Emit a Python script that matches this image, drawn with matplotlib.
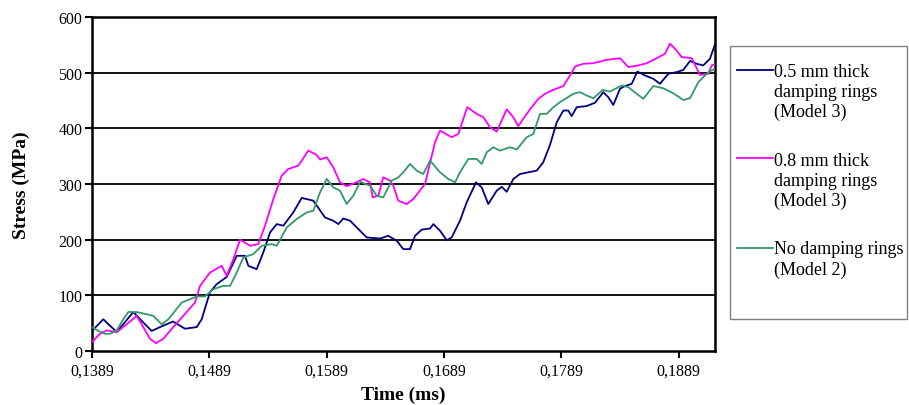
import matplotlib
matplotlib.use('Agg')
import matplotlib.pyplot as plt
from matplotlib.patches import Rectangle
from matplotlib.ticker import FuncFormatter
from matplotlib.legend_handler import HandlerLine2D

# 0.5 mm thick damping rings (Model 3)
t_05 = [0.13890, 0.13986, 0.14101, 0.14242, 0.14342, 0.14399, 0.14470, 0.14581, 0.14683, 0.14783,
        0.14825, 0.14896, 0.14953, 0.15038, 0.15124, 0.15194, 0.15223, 0.15294, 0.15350, 0.15408,
        0.15465, 0.15521, 0.15606, 0.15678, 0.15777, 0.15876, 0.15947, 0.15990, 0.16032, 0.16090,
        0.16232, 0.16345, 0.16416, 0.16488, 0.16544, 0.16601, 0.16644, 0.16701, 0.16772, 0.16800,
        0.16857, 0.16914, 0.16956, 0.17027, 0.17084, 0.17164, 0.17212, 0.17268, 0.17340, 0.17383,
        0.17425, 0.17482, 0.17539, 0.17609, 0.17681, 0.17737, 0.17794, 0.17852, 0.17908, 0.17950,
        0.17979, 0.18022, 0.18107, 0.18178, 0.18249, 0.18291, 0.18334, 0.18391, 0.18434, 0.18491,
        0.18539, 0.18604, 0.18675, 0.18732, 0.18803, 0.18875, 0.18931, 0.18988, 0.19045, 0.19101,
        0.19158, 0.19201]
s_05 = [36, 57, 34, 70, 48, 36, 43, 53, 40, 43,
        57, 106, 120, 133, 171, 171, 153, 147, 177, 213,
        228, 225, 249, 275, 270, 240, 234, 228, 238, 234,
        204, 202, 207, 198, 183, 183, 207, 218, 220, 228,
        216, 199, 204, 234, 267, 303, 294, 264, 288, 295,
        286, 309, 318, 321, 324, 339, 370, 411, 432, 432,
        422, 438, 440, 446, 465, 456, 442, 471, 476, 480,
        502, 495, 489, 480, 498, 501, 505, 521, 516, 513,
        525, 551]

# 0.8 mm thick damping rings (Model 3)
t_08 = [0.13890, 0.13958, 0.14015, 0.14101, 0.14186, 0.14271, 0.14327, 0.14384, 0.14436, 0.14498,
        0.14583, 0.14697, 0.14768, 0.14811, 0.14896, 0.14996, 0.15038, 0.15095, 0.15152, 0.15237,
        0.15308, 0.15365, 0.15436, 0.15507, 0.15563, 0.15649, 0.15678, 0.15734, 0.15806, 0.15834,
        0.15891, 0.15947, 0.16004, 0.16061, 0.16132, 0.16203, 0.16260, 0.16283, 0.16331, 0.16373,
        0.16431, 0.16459, 0.16501, 0.16573, 0.16629, 0.16729, 0.16814, 0.16857, 0.16956, 0.17013,
        0.17089, 0.17170, 0.17226, 0.17283, 0.17340, 0.17425, 0.17482, 0.17524, 0.17596, 0.17638,
        0.17695, 0.17752, 0.17809, 0.17908, 0.17965, 0.18008, 0.18078, 0.18164, 0.18278, 0.18391,
        0.18462, 0.18547, 0.18619, 0.18704, 0.18775, 0.18817, 0.18860, 0.18917, 0.19002, 0.19073,
        0.19144, 0.19173, 0.19201]
s_08 = [16, 31, 37, 34, 48, 63, 43, 22, 14, 22,
        43, 70, 87, 117, 141, 153, 135, 165, 200, 189,
        192, 225, 273, 315, 327, 333, 342, 360, 352, 344,
        348, 330, 303, 296, 302, 309, 303, 276, 279, 312,
        306, 297, 270, 264, 273, 300, 375, 396, 384, 390,
        438, 426, 420, 402, 394, 434, 420, 404, 426, 438,
        453, 462, 468, 476, 495, 511, 516, 517, 523, 526,
        510, 513, 517, 526, 534, 552, 543, 528, 526, 496,
        498, 513, 516]

# No damping rings (Model 2)
t_no = [0.13890, 0.13944, 0.14001, 0.14044, 0.14101, 0.14157, 0.14200, 0.14271, 0.14356, 0.14413,
        0.14484, 0.14541, 0.14598, 0.14655, 0.14726, 0.14783, 0.14853, 0.14924, 0.15009, 0.15067,
        0.15124, 0.15180, 0.15265, 0.15337, 0.15422, 0.15465, 0.15550, 0.15635, 0.15720, 0.15777,
        0.15834, 0.15891, 0.15947, 0.16004, 0.16061, 0.16118, 0.16175, 0.16260, 0.16317, 0.16373,
        0.16445, 0.16501, 0.16544, 0.16601, 0.16658, 0.16714, 0.16772, 0.16857, 0.16928, 0.16985,
        0.17027, 0.17098, 0.17170, 0.17212, 0.17255, 0.17311, 0.17368, 0.17453, 0.17511, 0.17596,
        0.17652, 0.17709, 0.17766, 0.17823, 0.17880, 0.17993, 0.18050, 0.18107, 0.18164, 0.18244,
        0.18306, 0.18406, 0.18462, 0.18534, 0.18590, 0.18675, 0.18760, 0.18846, 0.18931, 0.18988,
        0.19059, 0.19144, 0.19201]
s_no = [43, 36, 31, 31, 37, 57, 70, 70, 66, 63,
        48, 57, 72, 87, 93, 98, 98, 111, 117, 117,
        141, 168, 174, 189, 192, 189, 222, 237, 249, 252,
        285, 309, 294, 288, 264, 279, 304, 297, 279, 276,
        306, 312, 321, 336, 324, 318, 342, 321, 309, 303,
        321, 345, 345, 336, 357, 366, 360, 366, 362, 384,
        390, 426, 426, 438, 447, 462, 465, 459, 454, 469,
        466, 477, 474, 462, 453, 476, 472, 463, 451, 454,
        483, 501, 507]

labels = ['0.5 mm thick\ndamping rings\n(Model 3)',
          '0.8 mm thick\ndamping rings\n(Model 3)',
          'No damping rings\n(Model 2)']
x_ticks = [0.1389, 0.1489, 0.1589, 0.1689, 0.1789, 0.1889]
y_ticks = [0, 100, 200, 300, 400, 500, 600]

LEG_FS = 13
LEG_LS = 1.22


class FirstLineHandler(HandlerLine2D):
    # put the legend line next to the first line of a multi-line label
    def __init__(self, nlines, **kw):
        super().__init__(**kw)
        self.nlines = nlines

    def create_artists(self, legend, orig_handle, xdescent, ydescent, width, height, fontsize, trans):
        arts = super().create_artists(legend, orig_handle, xdescent, ydescent, width, height, fontsize, trans)
        shift = (self.nlines - 1) * LEG_LS * fontsize / 2.0
        for a in arts:
            yd = a.get_ydata()
            a.set_ydata([v + shift for v in yd])
        return arts


plt.rcParams['font.family'] = ['Liberation Serif', 'DejaVu Serif']

fig = plt.figure(figsize=(9.09, 4.06), dpi=100)
ax = fig.add_axes([92/909, 54/406, 623/909, 334/406])

for yv in y_ticks[1:-1]:
    ax.axhline(yv, color='black', linewidth=1.3, zorder=1)

l1, = ax.plot(t_05, s_05, color='#000080', linewidth=1.3, label=labels[0], zorder=3)
l2, = ax.plot(t_08, s_08, color='#FF00FF', linewidth=1.3, label=labels[1], zorder=3)
l3, = ax.plot(t_no, s_no, color='#339966', linewidth=1.3, label=labels[2], zorder=3)

ax.set_xlim(0.1389, 0.19201)
ax.set_ylim(0, 600)
ax.set_xticks(x_ticks)
ax.set_yticks(y_ticks)
ax.xaxis.set_major_formatter(FuncFormatter(lambda v, p: ('%.4f' % v).replace('.', ',')))
ax.tick_params(axis='both', direction='out', length=5, width=1.5, labelsize=11.5, color='black')
ax.tick_params(axis='y', pad=2)
for sp in ax.spines.values():
    sp.set_linewidth(1.8)
    sp.set_color('black')

ax.set_xlabel('Time (ms)', fontsize=14, fontweight='bold', labelpad=5)
ax.set_ylabel('Stress (MPa)', fontsize=14, fontweight='bold', labelpad=20)

# legend frame
fig.patches.append(Rectangle((730/909, 1 - 320/406), 177/909, 273/406,
                             transform=fig.transFigure, fill=False,
                             edgecolor='#808080', linewidth=1.0))
leg = fig.legend(handles=[l1, l2, l3], loc='upper left',
                 bbox_to_anchor=(737/909, 1 - 64/406),
                 handler_map={l1: FirstLineHandler(3), l2: FirstLineHandler(3), l3: FirstLineHandler(2)},
                 frameon=False, fontsize=LEG_FS, handlelength=2.0, handletextpad=0.05,
                 labelspacing=1.75, borderaxespad=0, borderpad=0)
for txt in leg.get_texts():
    txt.set_linespacing(LEG_LS)

fig.savefig('out.png', dpi=100)
